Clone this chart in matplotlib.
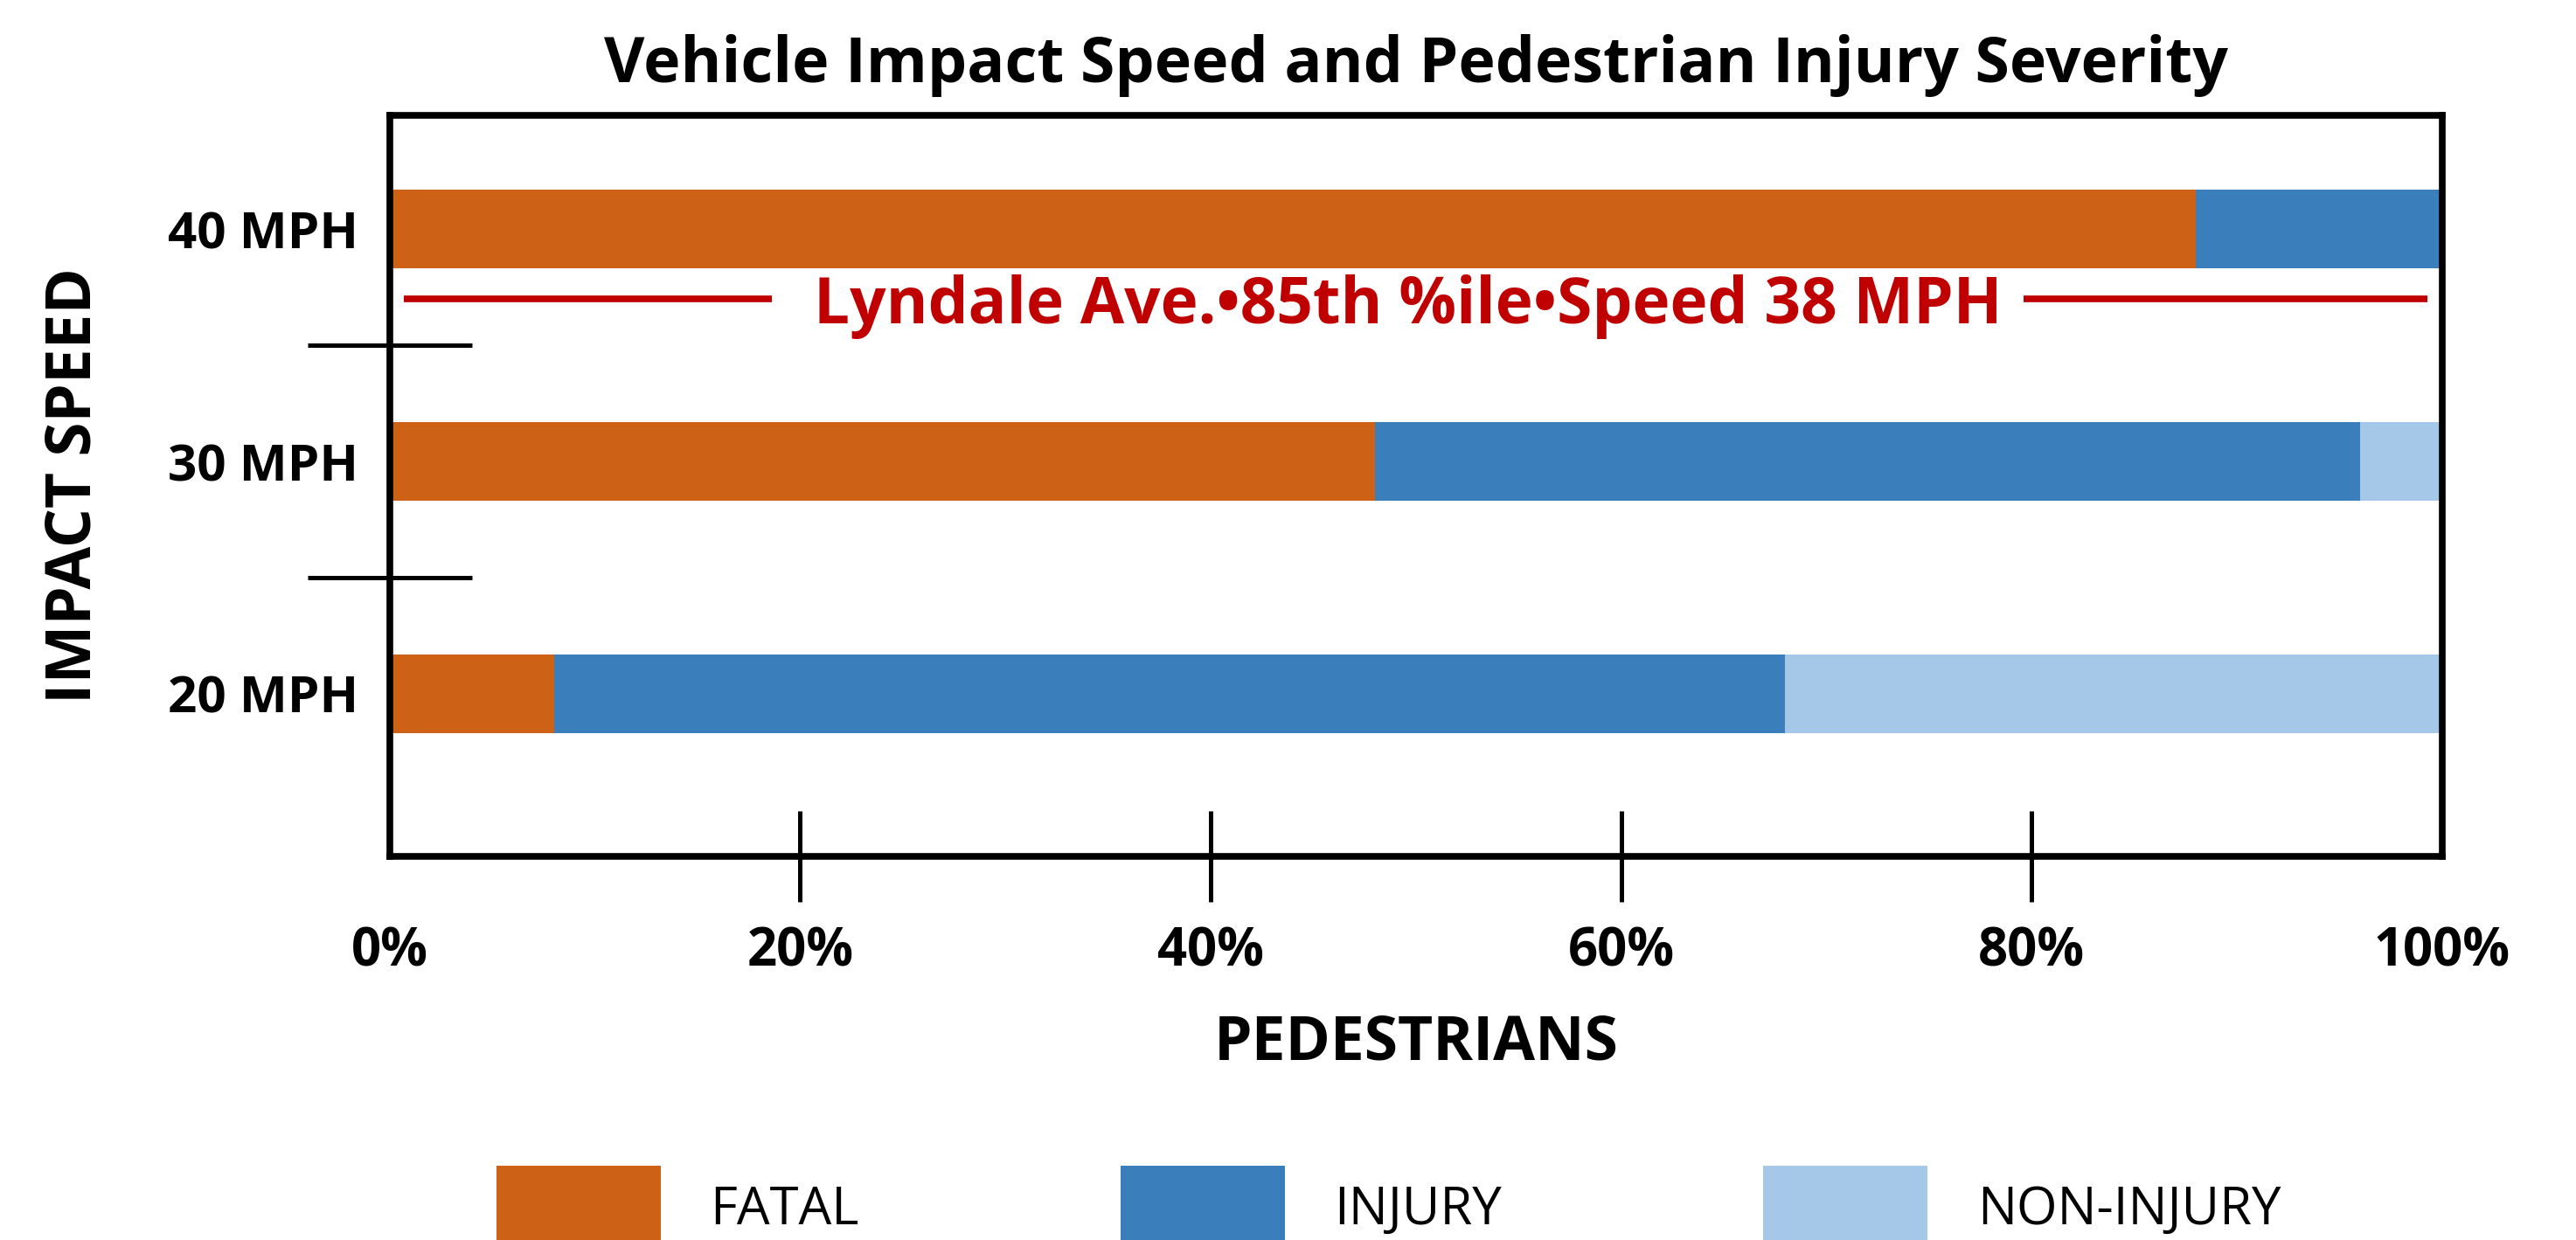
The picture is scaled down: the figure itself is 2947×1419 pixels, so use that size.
import numpy as np
import matplotlib
matplotlib.use('Agg')
import matplotlib.pyplot as plt

plt.rcParams['font.family'] = ['Open Sans', 'DejaVu Sans']

# data (percent of pedestrians)
speeds = ['20 MPH', '30 MPH', '40 MPH']
fatal = [8, 48, 88]
injury = [60, 48, 12]
non_injury = [32, 4, 0]
series_names = ['FATAL', 'INJURY', 'NON-INJURY']
series_colors = ['#CD6216', '#3A7FBB', '#A5C8E9']
x_ticks = [0, 20, 40, 60, 80, 100]
title = 'Vehicle Impact Speed and Pedestrian Injury Severity'
note = 'Lyndale Ave.\u202285th %ile\u2022Speed 38 MPH'
red = '#C00000'

fig = plt.figure(figsize=(29.47, 14.19), dpi=100)
ax = fig.add_axes([0.1513, 0.3094, 0.7967, 0.5976])

y = np.arange(len(speeds))
left = np.zeros(len(speeds))
for vals, name, color in zip([fatal, injury, non_injury], series_names, series_colors):
    ax.barh(y, vals, left=left, height=0.34, color=color, label=name, zorder=2)
    left = left + np.array(vals)

ax.set_xlim(0, 100)
ax.set_ylim(-0.70, 2.49)

ax.set_xticks(x_ticks)
ax.set_xticklabels([f'{t}%' for t in x_ticks])
ax.set_yticks(y)
ax.set_yticklabels(speeds)
ax.set_yticks([0.5, 1.5], minor=True)

ax.tick_params(axis='x', which='major', direction='inout', length=75, width=3.6,
               pad=20, labelsize=43)
ax.tick_params(axis='y', which='major', length=0, pad=26, labelsize=42)
ax.tick_params(axis='y', which='minor', direction='inout', length=135, width=3.6)
for lab in ax.get_xticklabels() + ax.get_yticklabels():
    lab.set_fontweight('bold')

# no tick stubs at 0% and 100% (they sit on the side spines)
xt = ax.xaxis.get_major_ticks()
for t in (xt[0], xt[-1]):
    t.tick1line.set_visible(False)

for s in ax.spines.values():
    s.set_linewidth(5.5)
    s.set_color('black')
    s.set_zorder(4)

ax.set_title(title, fontsize=51.5, fontweight='bold', pad=27)
ax.set_xlabel('PEDESTRIANS', fontsize=50, fontweight='bold')
ax.xaxis.set_label_coords(0.5, -0.212)
ax.set_ylabel('IMPACT SPEED', fontsize=51, fontweight='bold', va='center')
ax.yaxis.set_label_coords(-0.154, 0.5)

# 85th percentile speed marker
ax.hlines([1.70, 1.70], [0.7, 79.6], [18.6, 99.3], colors=red, lw=5.5, zorder=3)
ax.text(49.6, 1.595, note, color=red, fontsize=52.5, fontweight='bold',
        ha='center', va='baseline', zorder=3)

handles, labels = ax.get_legend_handles_labels()
fig.legend(handles, labels, loc='center', bbox_to_anchor=(0.539, 0.026), ncol=3,
           frameon=False, fontsize=43, handlelength=3.15, handleheight=2.1,
           handletextpad=0.95, columnspacing=5.0)

fig.savefig('out.png', dpi=100)
